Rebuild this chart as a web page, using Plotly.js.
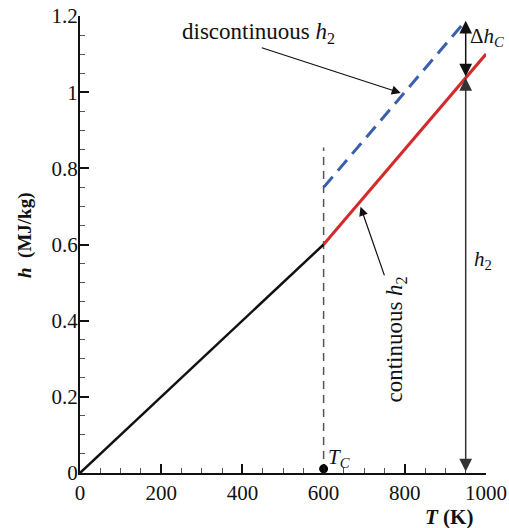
<!DOCTYPE html>
<html><head><meta charset="utf-8">
<script src="https://cdn.plot.ly/plotly-3.0.1.min.js"></script>
<style>body{margin:0;background:#fff}#chart{width:509px;height:528px}</style>
</head><body><div id="chart"></div>
<script>
// Data
const solidT = [0, 600];
const solidH = [0, 0.6];
const contT = [600, 1000];
const contH = [0.6, 1.1];
const discT = [600, 950];
const discH = [0.75, 1.1875];
const Tc = 600;
const TcLineH = [0, 0.855];
const TcDotH = [0.011];
const Tref = 950;
const h2AtRef = 1.0375;
const dhTop = 1.1875;
const xTicks = [0, 200, 400, 600, 800, 1000];
const yTicks = [0, 0.2, 0.4, 0.6, 0.8, 1, 1.2];
const yTickText = ['0', '0.2', '0.4', '0.6', '0.8', '1', '1.2'];

const serif = '"Liberation Serif", "Times New Roman", serif';

const W = 509, H = 528, mL = 80, mR = 23, mT = 16, mB = 55;
const pw = W - mL - mR, ph = H - mT - mB;

const traces = [
  {x: [Tc, Tc], y: TcLineH, mode: 'lines', line: {color: '#555', width: 1.5, dash: '8px,6px'}, hoverinfo: 'skip'},
  {x: solidT, y: solidH, mode: 'lines', line: {color: '#111', width: 2.5}},
  {x: contT, y: contH, mode: 'lines', line: {color: '#d42a2a', width: 3}},
  {x: discT, y: discH, mode: 'lines', line: {color: '#3a5fad', width: 3, dash: '14px,8px'}},
  {x: [Tc], y: TcDotH, mode: 'markers', marker: {color: '#000', size: 9}}
];

const ann = [
  {x: Tref, y: h2AtRef, ax: Tref, ay: 0, axref: 'x', ayref: 'y', xref: 'x', yref: 'y', text: '', showarrow: true, arrowside: 'end+start', arrowhead: 2, arrowsize: 1.7, arrowwidth: 1.5, arrowcolor: '#333', standoff: 0, startstandoff: 0},
  {x: Tref, y: dhTop, ax: Tref, ay: h2AtRef, axref: 'x', ayref: 'y', xref: 'x', yref: 'y', text: '', showarrow: true, arrowside: 'end+start', arrowhead: 2, arrowsize: 1.7, arrowwidth: 1.5, arrowcolor: '#111', standoff: 0, startstandoff: 0},
  {x: 790, y: 0.998, ax: 444, ay: 1.118, axref: 'x', ayref: 'y', xref: 'x', yref: 'y', text: '', showarrow: true, arrowhead: 2, arrowsize: 1.5, arrowwidth: 1.2, arrowcolor: '#111', standoff: 0},
  {x: 691, y: 0.699, ax: 751, ay: 0.515, axref: 'x', ayref: 'y', xref: 'x', yref: 'y', text: '', showarrow: true, arrowhead: 2, arrowsize: 1.5, arrowwidth: 1.2, arrowcolor: '#111', standoff: 0},
  {x: 440, y: 1.155, xref: 'x', yref: 'y', showarrow: false, text: 'discontinuous <i>h</i><sub>2</sub>', font: {family: serif, size: 23, color: '#111'}},
  {x: 778, y: 0.35, xref: 'x', yref: 'y', showarrow: false, textangle: -90, text: 'continuous <i>h</i><sub>2</sub>', font: {family: serif, size: 23, color: '#111'}},
  {x: 993, y: 0.56, xref: 'x', yref: 'y', showarrow: false, text: '<i>h</i><sub>2</sub>', font: {family: serif, size: 21, color: '#111'}},
  {x: 956, y: 1.145, xref: 'x', yref: 'y', xanchor: 'left', showarrow: false, text: 'Δ<i>h</i><sub><i>C</i></sub>', font: {family: serif, size: 21, color: '#111'}},
  {x: 607, y: 0.04, xref: 'x', yref: 'y', xanchor: 'left', showarrow: false, text: '<i>T</i><sub><i>C</i></sub>', font: {family: serif, size: 21, color: '#111'}},
  {x: (449 - mL) / pw, y: (H - mB - 517) / ph, xref: 'paper', yref: 'paper', xanchor: 'center', yanchor: 'middle', showarrow: false, text: '<b><i>T</i> (K)</b>', font: {family: serif, size: 21, color: '#111'}},
  {x: (25 - mL) / pw, y: (H - mB - 235) / ph, xref: 'paper', yref: 'paper', xanchor: 'center', yanchor: 'middle', showarrow: false, textangle: -90, text: '<b><i>h</i>  (MJ/kg)</b>', font: {family: serif, size: 19, color: '#111'}}
];

const layout = {
  width: W, height: H,
  margin: {l: mL, r: mR, t: mT, b: mB},
  paper_bgcolor: '#fff', plot_bgcolor: '#fff',
  showlegend: false,
  font: {family: serif, size: 18, color: '#111'},
  xaxis: {
    range: [0, 1000], tickvals: xTicks, ticks: 'inside', ticklen: 9, tickwidth: 2, tickcolor: '#111',
    showline: true, linecolor: '#111', linewidth: 2, showgrid: false, zeroline: false,
    minor: {dtick: 50, ticks: 'inside', ticklen: 5, tickwidth: 1, tickcolor: '#555', showgrid: false},
    tickfont: {family: serif, size: 21}
  },
  yaxis: {
    range: [0, 1.2], tickvals: yTicks, ticktext: yTickText, ticks: 'inside', ticklen: 9, tickwidth: 2, tickcolor: '#111',
    showline: true, linecolor: '#111', linewidth: 2, showgrid: false, zeroline: false,
    minor: {dtick: 0.05, ticks: 'inside', ticklen: 5, tickwidth: 1, tickcolor: '#555', showgrid: false},
    tickfont: {family: serif, size: 21},
    ticklabelstandoff: -4
  },
  annotations: ann
};

Plotly.newPlot('chart', traces, layout, {displayModeBar: false, staticPlot: true});
</script>
</body></html>
